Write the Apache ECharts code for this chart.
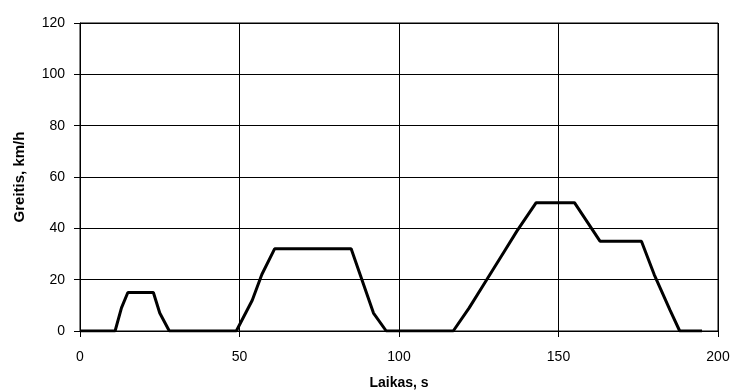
<!DOCTYPE html>
<html>
<head>
<meta charset="utf-8">
<script src="https://cdn.jsdelivr.net/npm/echarts@6/dist/echarts.min.js"></script>
<style>
  html, body { margin: 0; padding: 0; background: #fff; }
  #chart { width: 732px; height: 392px; }
</style>
</head>
<body>
<div id="chart"></div>
<script>
// laikas (s) ir greitis (km/h)
const laikas = [0, 11, 13, 15, 23, 25, 28, 49, 54, 57, 61, 85, 92, 96, 117, 122, 127, 133, 137, 143, 155, 163, 176, 180, 185, 188, 195]
const greitis = [0, 0, 9, 15, 15, 7, 0, 0, 12, 22, 32, 32, 7, 0, 0, 9, 19, 31, 39, 50, 50, 35, 35, 22, 8, 0, 0]

const chart = echarts.init(document.getElementById('chart'))

const fontFam = 'Liberation Sans, Arial, sans-serif'
const axisText = { color: '#000', fontFamily: fontFam, fontSize: 14 }

chart.setOption({
  animation: false,
  grid: {
    left: 80, right: 14, top: 23, bottom: 61,
    outerBoundsMode: 'none',
    show: true, borderColor: '#000', borderWidth: 1
  },
  xAxis: {
    type: 'value',
    min: 0,
    max: 200,
    interval: 50,
    name: 'Laikas, s',
    nameLocation: 'middle',
    nameGap: 45,
    nameTextStyle: { color: '#000', fontWeight: 'bold', fontSize: 14, fontFamily: fontFam },
    axisLine: { lineStyle: { color: '#000', width: 1 } },
    axisTick: { show: true, length: 6, lineStyle: { color: '#000' } },
    axisLabel: Object.assign({ margin: 19 }, axisText),
    splitLine: { show: true, lineStyle: { color: '#000', width: 1 } }
  },
  yAxis: {
    type: 'value',
    min: 0,
    max: 120,
    interval: 20,
    name: 'Greitis, km/h',
    nameLocation: 'middle',
    nameGap: 53,
    nameTextStyle: { color: '#000', fontWeight: 'bold', fontSize: 15, fontFamily: fontFam },
    axisLine: { show: true, lineStyle: { color: '#000', width: 1 } },
    axisTick: { show: true, length: 6, lineStyle: { color: '#000' } },
    axisLabel: Object.assign({ margin: 15 }, axisText),
    splitLine: { show: true, lineStyle: { color: '#000', width: 1 } }
  },
  series: [{
    type: 'line',
    data: laikas.map((t, i) => [t, greitis[i]]),
    symbol: 'none',
    lineStyle: { color: '#000', width: 3 }
  }]
})
</script>
</body>
</html>
